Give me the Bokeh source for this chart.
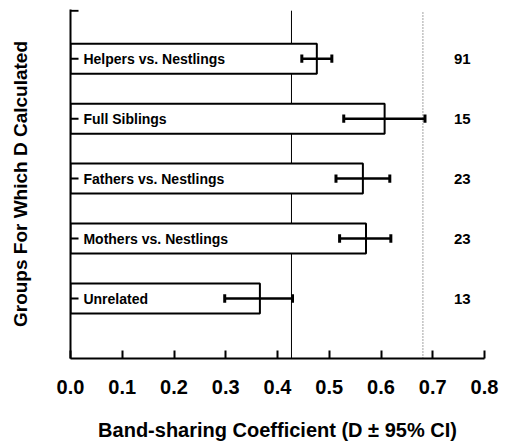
from bokeh.plotting import figure
from bokeh.models import Range1d, FixedTicker
from bokeh.core.properties import value
from bokeh.embed import file_html
from bokeh.resources import INLINE

groups = ["Helpers vs. Nestlings", "Full Siblings", "Fathers vs. Nestlings",
          "Mothers vs. Nestlings", "Unrelated"]
D = [0.476, 0.607, 0.565, 0.571, 0.366]
ci_low = [0.447, 0.528, 0.513, 0.520, 0.298]
ci_high = [0.505, 0.685, 0.617, 0.619, 0.429]
n_pairs = [91, 15, 23, 23, 13]
ref_solid = 0.427
ref_dotted = 0.681
x_ticks = [0.0, 0.1, 0.2, 0.3, 0.4, 0.5, 0.6, 0.7, 0.8]
x_tick_labels = ["0.0", "0.1", "0.2", "0.3", "0.4", "0.5", "0.6", "0.7", "0.8"]
x_title = "Band-sharing Coefficient (D \u00b1 95% CI)"
y_title = "Groups For Which D Calculated"

FONT = "Liberation Sans"
ntop = 5.82
ytop_tick = 5.8
pos = [len(groups) - i for i in range(len(groups))]

p = figure(width=508, height=444, output_backend="svg", toolbar_location=None,
           x_range=Range1d(0, 0.8), y_range=Range1d(0, ntop),
           min_border_left=70, min_border_right=24, min_border_top=9,
           min_border_bottom=86)
p.outline_line_color = None
p.xgrid.grid_line_color = None
p.ygrid.grid_line_color = None

# reference lines
p.segment(x0=[ref_solid], x1=[ref_solid], y0=[0], y1=[ytop_tick], line_color="black", line_width=1)
p.segment(x0=[ref_dotted], x1=[ref_dotted], y0=[0], y1=[ytop_tick - 0.03], line_color="#444444",
          line_width=1, line_dash="1 2")

# bars
p.hbar(y=pos, left=0, right=D, height=0.5, fill_color="white", line_color="black", line_width=2)

# error bars
p.segment(x0=ci_low, x1=ci_high, y0=pos, y1=pos, line_color="black", line_width=2.5)
cap = 0.07
p.segment(x0=ci_low, x1=ci_low, y0=[v - cap for v in pos], y1=[v + cap for v in pos],
          line_color="black", line_width=3)
p.segment(x0=ci_high, x1=ci_high, y0=[v - cap for v in pos], y1=[v + cap for v in pos],
          line_color="black", line_width=3)

# inward ticks on the left axis (category centers and top)
tk = 0.0155
ypos_ticks = pos + [ytop_tick]
p.segment(x0=[0] * len(ypos_ticks), x1=[tk] * len(ypos_ticks), y0=ypos_ticks, y1=ypos_ticks,
          line_color="black", line_width=2)

# labels inside bars
p.text(x=[0.025] * len(groups), y=pos, text=groups, text_font=value(FONT),
       text_font_style="bold", text_font_size="14px", text_baseline="middle",
       text_align="left", text_color="black")

# counts
p.text(x=[0.757] * len(groups), y=pos, text=[str(v) for v in n_pairs], text_font=value(FONT),
       text_font_style="bold", text_font_size="15px", text_baseline="middle",
       text_align="center", text_color="black")

# x axis
xa = p.xaxis[0]
xa.ticker = FixedTicker(ticks=x_ticks, minor_ticks=[])
xa.major_label_overrides = {t: l for t, l in zip(x_ticks, x_tick_labels)}
xa.major_tick_in = 8
xa.major_tick_out = 0
xa.major_tick_line_width = 2
xa.minor_tick_line_color = None
xa.axis_line_width = 2
xa.major_label_standoff = 21
xa.major_label_text_font = FONT
xa.major_label_text_font_style = "bold"
xa.major_label_text_font_size = "20px"
xa.major_label_text_color = "black"
xa.axis_label = x_title
xa.axis_label_text_font = FONT
xa.axis_label_text_font_style = "bold"
xa.axis_label_text_font_size = "20px"
xa.axis_label_text_color = "black"
xa.axis_label_standoff = 22

# y axis: only the spine, ticks drawn inside
ya = p.yaxis[0]
ya.ticker = FixedTicker(ticks=[], minor_ticks=[])
ya.major_tick_line_color = None
ya.minor_tick_line_color = None
ya.axis_line_width = 2
ya.axis_label = y_title
ya.axis_label_text_font = FONT
ya.axis_label_text_font_style = "bold"
ya.axis_label_text_font_size = "19px"
ya.axis_label_text_color = "black"
ya.axis_label_standoff = 40

open("out.html", "w").write(file_html(p, INLINE))
